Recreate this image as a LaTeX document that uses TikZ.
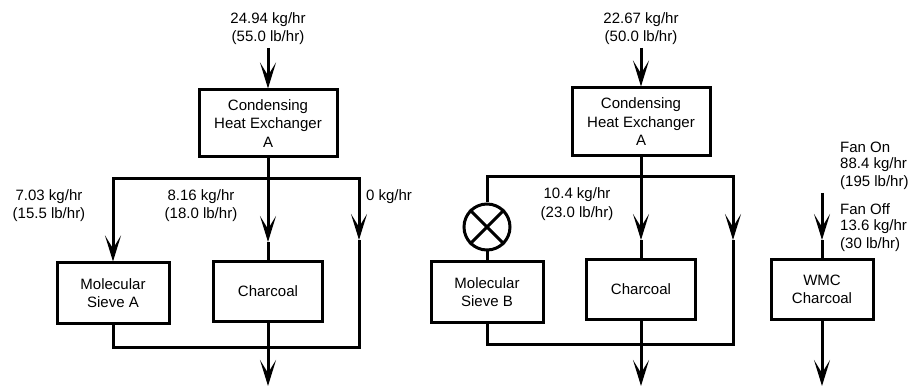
\documentclass[tikz,border=0pt]{standalone}
\usepackage{fontspec}
\setmainfont{Liberation Sans}
\usetikzlibrary{arrows.meta}
\tikzset{
  lw/.style={line width=3pt},
  arr/.style={lw,-{Stealth[length=26pt,width=16pt,inset=13pt]}},
  blk/.style={draw,lw,align=center,inner sep=0pt},
  lbl/.style={align=center,inner sep=0pt},
  lbll/.style={align=left,inner sep=0pt,anchor=west},
}
\begin{document}
\begin{tikzpicture}[x=1pt,y=-1pt,font=\fontsize{15}{18.5}\selectfont]
\useasboundingbox (0,0) rectangle (915,387);
% ---------- left system ----------
\node[blk,minimum width=138,minimum height=67] (chxL) at (268,123.5) {Condensing\\Heat Exchanger\\A};
\node[blk,minimum width=112,minimum height=60] (msA) at (113,293) {Molecular\\Sieve A};
\node[blk,minimum width=109,minimum height=59] (chL) at (268,291.5) {Charcoal};
\node[lbl] (tL) at (268,28.5) {24.94 kg/hr\\(55.0 lb/hr)};
\node[lbl] (l1) at (49,205.5) {7.03 kg/hr\\(15.5 lb/hr)};
\node[lbl] (l2) at (201,205.5) {8.16 kg/hr\\(18.0 lb/hr)};
\coordinate (inL) at (268,48);
\coordinate (jL) at (268,179);
\coordinate (aL) at (113,179);
\coordinate (bL) at (359,179);
\coordinate (mL) at (268,242);
\coordinate (rL) at (359,240);
\coordinate (dL) at (359,347);
\coordinate (eL) at (113,347);
\coordinate (oL) at (268,347);
\coordinate (xL) at (268,386);
\draw[arr] (inL) -- (chxL.north);
\draw[lw] (chxL.south) -- (jL);
\draw[lw,line cap=rect] (aL) -- (bL);
\draw[arr] (aL) -- (msA.north);
\draw[arr] (jL) -- (mL);
\draw[lw] (mL) -- (chL.north);
\draw[arr] (bL) -- (rL);
\draw[lw] (rL) -- (dL);
\draw[lw,line cap=rect] (msA.south) -- (eL) -- (dL);
\draw[lw] (chL.south) -- (oL);
\draw[arr] (oL) -- (xL);
% ---------- right system ----------
\node[blk,minimum width=138,minimum height=68] (chxR) at (641,122) {Condensing\\Heat Exchanger\\A};
\node[blk,minimum width=112,minimum height=60] (msB) at (487,292) {Molecular\\Sieve B};
\node[blk,minimum width=109,minimum height=59] (chR) at (641,289.5) {Charcoal};
\node[draw,lw,circle,minimum size=46,inner sep=0pt] (v) at (487,227) {};
\draw[lw] (v.45) -- (v.225) (v.135) -- (v.-45);
\node[lbl] (tR) at (641,28.5) {22.67 kg/hr\\(50.0 lb/hr)};
\node[lbl] (r0) at (389,197) {0 kg/hr};
\node[lbl] (r1) at (577,204) {10.4 kg/hr\\(23.0 lb/hr)};
\coordinate (inR) at (641,48);
\coordinate (jR) at (641,177);
\coordinate (aR) at (487,177);
\coordinate (bR) at (733,177);
\coordinate (mR) at (641,240);
\coordinate (rR) at (733,240);
\coordinate (dR) at (733,344);
\coordinate (eR) at (487,344);
\coordinate (oR) at (641,344);
\coordinate (xR) at (641,386);
\draw[arr] (inR) -- (chxR.north);
\draw[lw] (chxR.south) -- (jR);
\draw[lw,line cap=rect] (aR) -- (bR);
\draw[lw] (aR) -- (v.north);
\draw[lw] (v.south) -- (msB.north);
\draw[arr] (jR) -- (mR);
\draw[lw] (mR) -- (chR.north);
\draw[arr] (bR) -- (rR);
\draw[lw] (rR) -- (dR);
\draw[lw,line cap=rect] (msB.south) -- (eR) -- (dR);
\draw[lw] (chR.south) -- (oR);
\draw[arr] (oR) -- (xR);
% ---------- WMC ----------
\node[blk,minimum width=102,minimum height=59] (wmc) at (822,289.5) {WMC\\Charcoal};
\node[lbll] (f1) at (840,147) {Fan On};
\node[lbll] (f2) at (840,165) {88.4 kg/hr};
\node[lbll] (f3) at (840,183) {(195 lb/hr)};
\node[lbll] (f4) at (840,209) {Fan Off};
\node[lbll] (f5) at (840,227) {13.6 kg/hr};
\node[lbll] (f6) at (840,245) {(30 lb/hr)};
\coordinate (inW) at (822,193);
\coordinate (mW) at (822,240);
\coordinate (xW) at (822,386);
\draw[arr] (inW) -- (mW);
\draw[lw] (mW) -- (wmc.north);
\draw[arr] (wmc.south) -- (xW);
\end{tikzpicture}
\end{document}
